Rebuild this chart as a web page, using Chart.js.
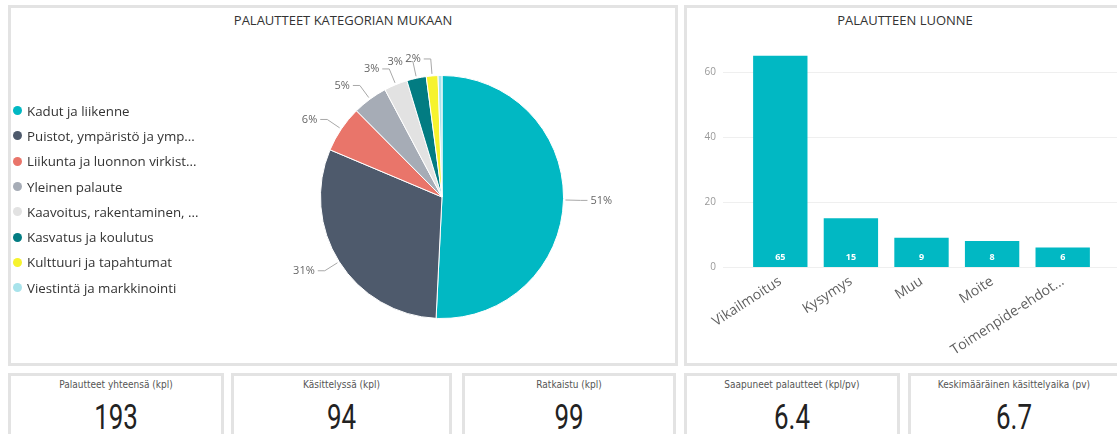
<!DOCTYPE html>
<html>
<head>
<meta charset="utf-8">
<script src="https://cdn.jsdelivr.net/npm/chart.js@4/dist/chart.umd.min.js"></script>
<style>
  html, body { margin:0; padding:0; }
  body { width:1117px; height:434px; overflow:hidden; background:#fff; position:relative; font-family:'Open Sans','Noto Sans',sans-serif; }
  .panel { position:absolute; box-sizing:border-box; border:3px solid #e3e3e3; background:#fff; }
  .ptitle { position:absolute; left:0; right:0; top:3px; text-align:center; font-size:13px; color:#333; }
  canvas { position:absolute; }
  #legend { position:absolute; left:11px; top:98px; }
  .li { height:25.3px; display:flex; align-items:center; font-size:13.3px; color:#333; white-space:nowrap; }
  .dot { width:9px; height:9px; border-radius:50%; margin-left:2px; margin-right:5px; flex:none; }
  .kpi { position:absolute; top:373px; height:80px; box-sizing:border-box; border:3px solid #e3e3e3; }
  .kt { position:absolute; left:0; right:0; top:2px; line-height:14px; text-align:center; font-family:'DejaVu Sans Condensed','DejaVu Sans',sans-serif; font-size:10px; color:#555; }
  .kv { position:absolute; left:0; right:0; top:24px; line-height:35px; text-align:center; font-family:Roboto,sans-serif; font-weight:400; font-size:35px; color:#222; transform:scaleX(0.74); transform-origin:50% 50%; }
</style>
</head>
<body>
<div class="panel" style="left:8px;top:5px;width:670px;height:361px;">
  <div class="ptitle">PALAUTTEET KATEGORIAN MUKAAN</div>
</div>
<div class="panel" style="left:684px;top:5px;width:442px;height:361px;">
  <div class="ptitle">PALAUTTEEN LUONNE</div>
</div>
<canvas id="pie" width="664" height="355" style="left:11px;top:8px;"></canvas>
<canvas id="bar" width="430" height="332" style="left:687px;top:30px;"></canvas>
<div id="legend"></div>
<div id="kpis"></div>
<script>
// ---- data ----
const pieCategories = ['Kadut ja liikenne','Puistot, ympäristö ja ymp...','Liikunta ja luonnon virkist...','Yleinen palaute','Kaavoitus, rakentaminen, ...','Kasvatus ja koulutus','Kulttuuri ja tapahtumat','Viestintä ja markkinointi'];
const pieValues = [98, 59, 12, 9, 6, 5, 3, 1];
const pieColors = ['#01B8C3','#4E5A6C','#E9756A','#A6ACB6','#E2E2E2','#027C82','#F6F32E','#A8E3EB'];

const barCategories = ['Vikailmoitus','Kysymys','Muu','Moite','Toimenpide-ehdot...'];
const barValues = [65, 15, 9, 8, 6];
const barTicks = [0, 20, 40, 60];

const kpiTitles = ['Palautteet yhteensä (kpl)','Käsittelyssä (kpl)','Ratkaistu (kpl)','Saapuneet palautteet (kpl/pv)','Keskimääräinen käsittelyaika (pv)'];
const kpiValues = ['193','94','99','6.4','6.7'];
const kpiLefts = [8, 231, 462, 684, 908];
const kpiWidths = [216, 221, 214, 216, 212];

// ---- legend ----
const lg = document.getElementById('legend');
pieCategories.forEach((c,i)=>{
  const d = document.createElement('div'); d.className='li';
  const s = document.createElement('span'); s.className='dot'; s.style.background = pieColors[i];
  const t = document.createElement('span'); t.textContent = c;
  d.appendChild(s); d.appendChild(t); lg.appendChild(d);
});
// ---- kpis ----
const kp = document.getElementById('kpis');
kpiTitles.forEach((t,i)=>{
  const d = document.createElement('div'); d.className='kpi';
  d.style.left = kpiLefts[i]+'px'; d.style.width = kpiWidths[i]+'px';
  d.innerHTML = '<div class="kt"></div><div class="kv"></div>';
  d.children[0].textContent = t; d.children[1].textContent = kpiValues[i];
  kp.appendChild(d);
});

// ---- pie label plugin ----
const pieLabels = {
  id:'pieLabels',
  afterDatasetsDraw(chart){
    const ctx = chart.ctx;
    const meta = chart.getDatasetMeta(0);
    const data = chart.data.datasets[0].data;
    const total = data.reduce((a,b)=>a+b,0);
    ctx.save();
    ctx.font = '11px "Open Sans", sans-serif';
    const seg = 7, gap = 3;
    const items = [];
    meta.data.forEach((arc,i)=>{
      const pct = data[i]/total*100;
      if (pct < 1.5) return;
      const mid = (arc.startAngle + arc.endAngle)/2;
      const r = arc.outerRadius;
      const text = Math.round(pct)+'%';
      items.push({
        ax: arc.x + Math.cos(mid)*(r+2), ay: arc.y + Math.sin(mid)*(r+2),
        ex: arc.x + Math.cos(mid)*(r+17), ey: arc.y + Math.sin(mid)*(r+17),
        right: Math.cos(mid) >= 0, text, tw: ctx.measureText(text).width
      });
    });
    // text-box collision avoidance per side, bottom-up
    [true,false].forEach(side=>{
      const list = items.filter(o=>o.right===side).sort((a,b)=>b.ey-a.ey);
      const placed = [];
      list.forEach(o=>{
        o.x0 = side ? o.ex+seg+gap : o.ex-seg-gap-o.tw; o.x1 = o.x0 + o.tw;
        let moved = true;
        while (moved){
          moved = false;
          for (const p of placed){
            if (o.x0 < p.x1+2 && o.x1 > p.x0-2 && Math.abs(o.ey - p.ey) < 12){
              o.ey = p.ey - 12; moved = true;
            }
          }
        }
        placed.push(o);
      });
    });
    ctx.strokeStyle = '#a8a8a8'; ctx.lineWidth = 1;
    ctx.fillStyle = '#666666'; ctx.textBaseline = 'middle';
    items.forEach(o=>{
      const hx = o.right ? o.ex + seg : o.ex - seg;
      ctx.beginPath(); ctx.moveTo(o.ax,o.ay); ctx.lineTo(o.ex,o.ey); ctx.lineTo(hx,o.ey); ctx.stroke();
      ctx.textAlign = o.right ? 'left' : 'right';
      ctx.fillText(o.text, o.right ? hx+gap : hx-gap, o.ey);
    });
    ctx.restore();
  }
};

new Chart(document.getElementById('pie'), {
  type:'pie',
  data:{ labels: pieCategories, datasets:[{ data: pieValues, backgroundColor: pieColors, borderColor:'#ffffff', borderWidth:1 }] },
  options:{
    responsive:false, animation:false, devicePixelRatio:1,
    layout:{ padding:{ left:309, right:111, top:67, bottom:44 } },
    plugins:{ legend:{ display:false }, tooltip:{ enabled:false } }
  },
  plugins:[pieLabels]
});

// ---- bar chart ----
const barExtras = {
  id:'barExtras',
  beforeDatasetsDraw(chart){
    const ctx = chart.ctx, y = chart.scales.y;
    ctx.save(); ctx.strokeStyle = '#efefef'; ctx.lineWidth = 1;
    y.ticks.forEach(t=>{
      const py = Math.round(y.getPixelForValue(t.value)) + 0.5;
      ctx.beginPath(); ctx.moveTo(36, py); ctx.lineTo(chart.width, py); ctx.stroke();
    });
    ctx.restore();
  },
  afterDatasetsDraw(chart){
    const ctx = chart.ctx, meta = chart.getDatasetMeta(0);
    ctx.save(); ctx.fillStyle = '#ffffff'; ctx.font = 'bold 9px "Open Sans", sans-serif';
    ctx.textAlign = 'center'; ctx.textBaseline = 'middle';
    meta.data.forEach((b,i)=>{ ctx.fillText(String(chart.data.datasets[0].data[i]), b.x, b.base - 10); });
    ctx.restore();
  }
};

new Chart(document.getElementById('bar'), {
  type:'bar',
  data:{ labels: barCategories, datasets:[{ data: barValues, backgroundColor:'#01B8C3', barPercentage:0.77, categoryPercentage:1 }] },
  options:{
    responsive:false, animation:false, devicePixelRatio:1,
    layout:{ padding:{ left:0, right:19, top:9.5, bottom:0 } },
    plugins:{ legend:{ display:false }, tooltip:{ enabled:false } },
    scales:{
      x:{
        grid:{ display:false, drawTicks:false }, border:{ display:false },
        ticks:{ autoSkip:false, maxRotation:33, minRotation:33, padding:6, color:'#5f5f5f', font:{ size:14, family:'"Open Sans", sans-serif' } },
        afterFit(s){ s.height = 95; }
      },
      y:{
        min:0, max:70,
        afterBuildTicks(s){ s.ticks = barTicks.map(v=>({ value:v })); },
        grid:{ display:false, drawTicks:false }, border:{ display:false },
        ticks:{ padding:29, color:'#999', font:{ size:10, family:'"Open Sans", sans-serif' } },
        afterFit(s){ s.width = 58; s.paddingTop = 0; s.paddingBottom = 0; }
      }
    }
  },
  plugins:[barExtras]
});
</script>
</body>
</html>
